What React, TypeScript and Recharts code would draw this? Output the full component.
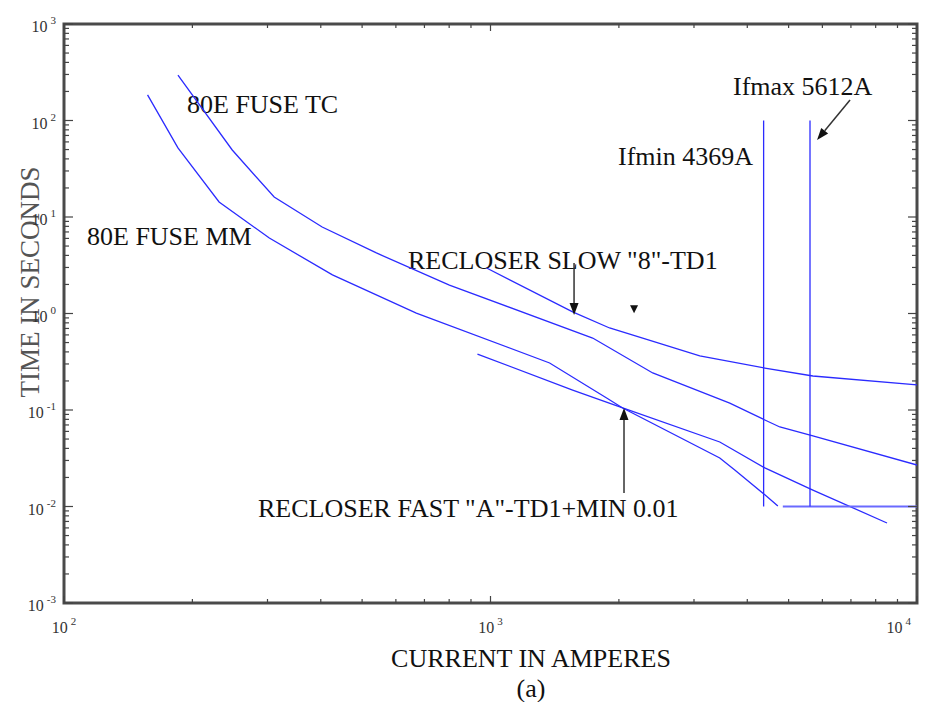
import React from 'react';
import { LineChart, Line, XAxis, YAxis, ReferenceLine, ReferenceDot, ReferenceArea, Customized } from 'recharts';

// curve points (current in A, time in s)
const mmAmps = [157, 185, 231, 303, 426, 670, 1376, 1872, 2041, 3448, 3739, 4398, 4718];
const mmSecs = [184, 52, 14.3, 6.06, 2.51, 1.01, 0.307, 0.133, 0.105, 0.0318, 0.0239, 0.0132, 0.0101];

const tcAmps = [185, 248, 311, 403, 540, 801, 1736, 2401, 3639, 4398, 4769, 5700, 10000];
const tcSecs = [296, 49.5, 16.1, 7.88, 4.24, 1.97, 0.557, 0.242, 0.118, 0.0788, 0.0667, 0.0538, 0.0269];

const slowAmps = [979, 1558, 1902, 2324, 3095, 4398, 5700, 10000];
const slowSecs = [2.96, 1.04, 0.708, 0.54, 0.363, 0.272, 0.225, 0.182];

const fastAmps = [932, 1558, 2041, 3448, 4398, 5700, 8505];
const fastSecs = [0.38, 0.161, 0.105, 0.0466, 0.0251, 0.0148, 0.00675];

const minAmps = [4846, 10000];
const minSecs = [0.01, 0.01];

const ifMin = 4369;
const ifMax = 5612;
const faultSecs = [0.01, 100];

const xDecades = [2, 3];
const yDecades = [-3, -2, -1, 0, 1, 2];

const BLUE = '#2b2bff';
const FRAME = '#4a4a4a';
const FONT = '"Liberation Serif", "Times New Roman", serif';

// plot box size, used to mirror ticks onto the top and right edges
const W = 926;
const H = 702;
const M = { top: 24, right: 9, bottom: 59, left: 0 };
const AXIS_W = 64;
const AXIS_H = 40;
const PLOT_W = W - M.left - M.right - AXIS_W;
const PLOT_H = H - M.top - M.bottom - AXIS_H;

const zip = (a: number[], b: number[]) => a.map((i, k) => ({ i, t: b[k] }));

const mmData = zip(mmAmps, mmSecs);
const tcData = zip(tcAmps, tcSecs);
const slowData = zip(slowAmps, slowSecs);
const fastData = zip(fastAmps, fastSecs);
const minData = zip(minAmps, minSecs);
const ifMinData = zip([ifMin, ifMin], faultSecs);
const ifMaxData = zip([ifMax, ifMax], faultSecs);

const logTicks = (decades: number[]) => {
  const out: number[] = [];
  decades.forEach((d) => {
    for (let m = 1; m < 10; m++) out.push(Number((m * Math.pow(10, d)).toPrecision(6)));
  });
  out.push(Math.pow(10, decades[decades.length - 1] + 1));
  return out;
};
const xTicks = logTicks(xDecades);
const yTicks = logTicks(yDecades);
const xMax = xTicks[xTicks.length - 1];

const isMajor = (v: number) => {
  const l = Math.log10(v);
  return Math.abs(l - Math.round(l)) < 1e-6;
};

const XTick = (props: any) => {
  const { x, y, payload } = props;
  const v = payload.value;
  const major = isMajor(v);
  const exp = Math.round(Math.log10(v));
  const len = major ? 7 : 4;
  const last = v === xMax;
  const top = y - PLOT_H;
  return (
    <g>
      <line x1={x} x2={x} y1={y} y2={y - len} stroke="#444" strokeWidth={1.2} />
      <line x1={x} x2={x} y1={top} y2={top + len} stroke="#444" strokeWidth={1.2} />
      {major && (
        <text
          x={last ? x - 6 : x}
          y={y + 30}
          textAnchor={last ? 'end' : 'middle'}
          fontSize={16}
          fill="#333"
          fontFamily={FONT}
        >
          10<tspan dx={3} dy={-8} fontSize={11}>{exp}</tspan>
        </text>
      )}
    </g>
  );
};

const YTick = (props: any) => {
  const { x, y, payload } = props;
  const v = payload.value;
  const major = isMajor(v);
  const exp = Math.round(Math.log10(v));
  const len = major ? 9 : 5;
  const right = x + PLOT_W;
  return (
    <g>
      <line x1={x} x2={x + len} y1={y} y2={y} stroke="#444" strokeWidth={1.2} />
      <line x1={right} x2={right - len} y1={y} y2={y} stroke="#444" strokeWidth={1.2} />
      {major && (
        <text x={x - 8} y={y + 8} textAnchor="end" fontSize={16} fill="#333" fontFamily={FONT}>
          10<tspan dx={3} dy={-8} fontSize={11}>{exp}</tspan>
        </text>
      )}
    </g>
  );
};

const Arrow = (p: any) => {
  const { x1, y1, x2, y2 } = p;
  const a = Math.atan2(y2 - y1, x2 - x1);
  const L = 12;
  const w = 4.5;
  const bx = x2 - L * Math.cos(a);
  const by = y2 - L * Math.sin(a);
  const pts = `${x2},${y2} ${bx - w * Math.sin(a)},${by + w * Math.cos(a)} ${bx + w * Math.sin(a)},${by - w * Math.cos(a)}`;
  return (
    <g>
      <line x1={x1} y1={y1} x2={bx} y2={by} stroke="#333" strokeWidth={1.5} />
      <polygon points={pts} fill="#111" />
    </g>
  );
};

const Tri = (p: any) => {
  const { cx, cy } = p;
  return <polygon points={`${cx - 4},${cy - 4} ${cx + 4},${cy - 4} ${cx},${cy + 4}`} fill="#111" />;
};

const Notes = () => (
  <g fontFamily={FONT} fontSize={26} fill="#111">
    <text x={187} y={113}>80E FUSE TC</text>
    <text x={87} y={245}>80E FUSE MM</text>
    <text x={408} y={269}>RECLOSER SLOW "8"-TD1</text>
    <text x={258} y={517}>RECLOSER FAST "A"-TD1+MIN 0.01</text>
    <text x={733} y={95}>Ifmax 5612A</text>
    <text x={618} y={165}>Ifmin 4369A</text>
    <text x={531} y={667} textAnchor="middle">CURRENT IN AMPERES</text>
    <text x={531} y={697} textAnchor="middle">(a)</text>
    <text x={39} y={282} textAnchor="middle" fontSize={27} fill="#555" transform="rotate(-90 39 282)">
      TIME IN SECONDS
    </text>
  </g>
);

const lineProps = {
  dataKey: 't',
  stroke: BLUE,
  strokeWidth: 1.3,
  dot: false,
  activeDot: false,
  isAnimationActive: false,
  type: 'linear' as const,
};

export default function App() {
  return (
    <div style={{ position: 'absolute', left: 0, top: 0, background: '#fff', fontFamily: FONT }}>
      <LineChart width={W} height={H} margin={M}>
        <XAxis
          dataKey="i"
          type="number"
          scale="log"
          domain={[100, 10000]}
          allowDataOverflow
          ticks={xTicks}
          interval={0}
          height={AXIS_H}
          tickSize={0}
          tickMargin={0}
          tickLine={false}
          axisLine={false}
          tick={<XTick />}
        />
        <YAxis
          type="number"
          scale="log"
          domain={[0.001, 1000]}
          allowDataOverflow
          ticks={yTicks}
          interval={0}
          width={AXIS_W}
          tickSize={0}
          tickMargin={0}
          tickLine={false}
          axisLine={false}
          tick={<YTick />}
        />

        <ReferenceArea
          x1={100}
          x2={10000}
          y1={0.001}
          y2={1000}
          fill="none"
          fillOpacity={0}
          stroke={FRAME}
          strokeWidth={3}
          ifOverflow="visible"
        />

        <Line {...lineProps} data={mmData} />
        <Line {...lineProps} data={tcData} />
        <Line {...lineProps} data={slowData} />
        <Line {...lineProps} data={fastData} />
        <Line {...lineProps} data={minData} strokeWidth={2} stroke="#6a6aff" />
        <Line {...lineProps} data={ifMinData} />
        <Line {...lineProps} data={ifMaxData} />

        <ReferenceLine segment={[{ x: 6966, y: 163 }, { x: 5830, y: 62.8 }]} shape={Arrow} />
        <ReferenceLine segment={[{ x: 1570, y: 3.34 }, { x: 1570, y: 0.965 }]} shape={Arrow} />
        <ReferenceLine segment={[{ x: 2056, y: 0.0138 }, { x: 2056, y: 0.105 }]} shape={Arrow} />
        <ReferenceDot x={2171} y={1.11} r={0} shape={Tri} />

        <Customized component={Notes} />
      </LineChart>
    </div>
  );
}
